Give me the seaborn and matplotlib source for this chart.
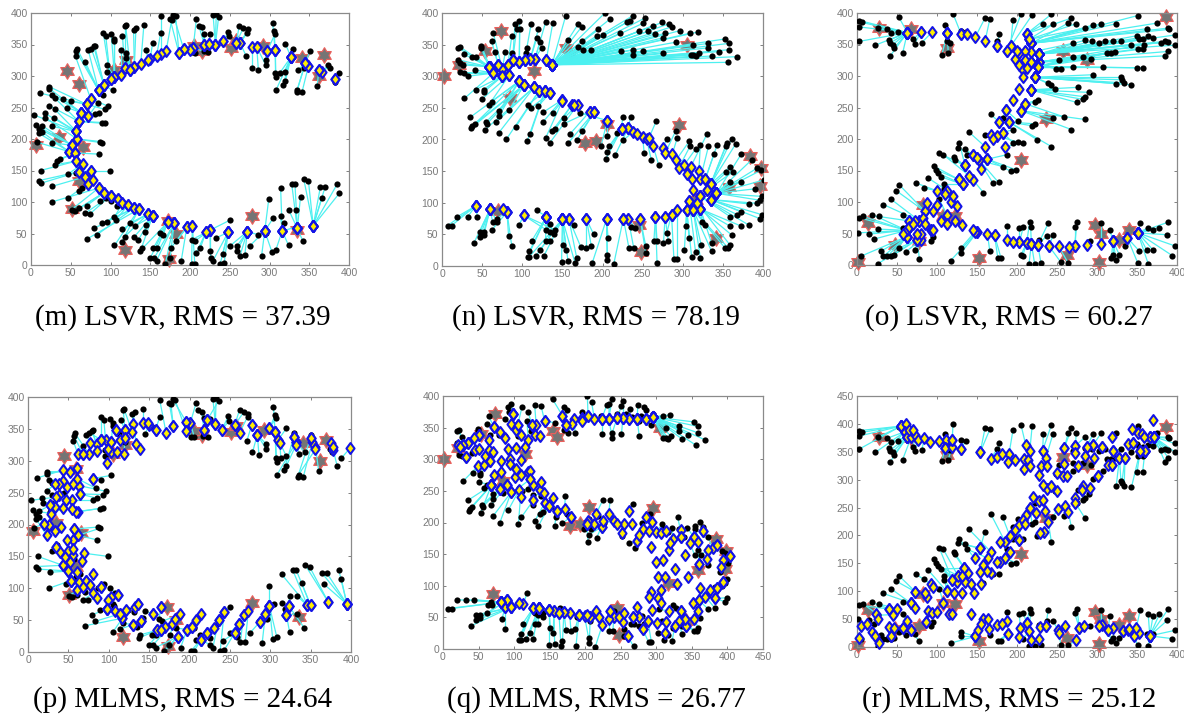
import pandas as pd
import matplotlib
matplotlib.use("Agg")
import matplotlib.pyplot as plt
from matplotlib.path import Path
import seaborn as sns

# C letter: noisy samples, then the fit of each sample for LSVR (m) and MLMS (p)
c_dots = [
    (388,304),(383,291),(374,318),(376,313),(360,284),(341,275),(334,275),(335,278),(343,313),(336,310),
    (351,340),(329,343),(320,351),(320,307),(313,305),(307,305),(308,298),(308,277),(317,285),(320,292),
    (304,384),(306,371),(307,367),(295,326),(295,318),(278,313),(286,309),(271,331),(273,374),(272,369),
    (267,376),(262,380),(248,370),(249,363),(229,397),(233,398),(236,394),(225,366),(215,377),(211,380),
    (208,390),(218,367),(223,338),(217,339),(206,337),(202,338),(179,397),(182,396),(175,390),(177,389),
    (163,396),(163,368),(153,353),(145,342),(142,381),(132,376),(129,373),(119,381),(118,380),(115,364),
    (113,342),(120,336),(120,329),(101,366),(105,359),(91,368),(94,364),(105,355),(79,347),(72,341),
    (76,343),(80,348),(58,343),(57,339),(56,331),(68,323),(95,317),(95,307),(103,277),(91,270),
    (97,252),(93,247),(84,257),(86,241),(81,239),(93,226),(89,225),(87,196),(89,194),(85,176),
    (99,150),(11,273),(23,283),(23,280),(26,270),(30,265),(23,253),(40,263),(50,260),(45,250),
    (30,247),(4,238),(17,241),(18,234),(29,234),(6,222),(14,221),(10,216),(14,211),(10,209),
    (27,220),(26,194),(7,195),(36,168),(33,165),(30,159),(12,150),(10,134),(13,130),(27,125),
    (47,145),(57,146),(64,122),(60,117),(47,107),(26,100),(70,94),(51,88),(55,86),(61,90),
    (68,82),(74,81),(87,101),(94,106),(101,101),(108,93),(105,76),(107,72),(96,69),(89,66),
    (79,58),(83,48),(70,41),(105,31),(114,36),(115,57),(118,45),(124,66),(131,62),(145,64),
    (143,53),(130,45),(135,40),(139,27),(137,22),(154,27),(159,27),(150,11),(155,11),(158,7),
    (169,2),(175,11),(176,27),(162,51),(166,48),(183,38),(189,7),(202,2),(206,2),(208,19),
    (213,27),(202,40),(206,38),(225,22),(226,11),(229,7),(238,2),(243,3),(241,17),(233,43),
    (250,71),(250,30),(259,30),(259,23),(263,15),(269,16),(275,30),(290,14),(303,21),(308,24),
    (324,31),(342,38),(286,48),(296,51),(305,75),(314,77),(318,67),(324,88),(333,88),(333,60),
    (299,104),(314,122),(328,128),(332,129),(339,108),(343,137),(349,133),(364,124),(370,124),(366,107),
    (385,128),(388,114),
]
m_fit = [
    (382,296),(382,296),(366,306),(362,309),(362,309),(349,316),(345,320),(345,320),(349,316),(345,320),
    (345,320),(327,330),(327,330),(327,330),(327,330),(307,341),(307,341),(327,330),(327,330),(327,330),
    (307,341),(307,341),(297,339),(297,339),(284,346),(278,346),(284,346),(263,352),(263,352),(263,352),
    (258,352),(258,352),(242,355),(242,355),(232,350),(232,350),(232,350),(224,351),(218,350),(218,350),
    (204,345),(218,350),(224,351),(204,345),(200,342),(192,343),(192,343),(186,337),(186,337),(170,340),
    (163,335),(158,332),(150,327),(147,325),(138,319),(130,315),(130,315),(125,310),(118,313),(118,313),
    (113,302),(125,310),(125,310),(105,299),(105,299),(100,295),(100,295),(105,299),(92,285),(85,277),
    (92,285),(92,285),(85,277),(85,277),(75,264),(85,277),(105,299),(100,295),(92,285),(85,277),
    (75,264),(70,255),(72,236),(72,236),(63,242),(60,228),(60,228),(58,200),(58,200),(55,178),
    (75,150),(70,255),(70,255),(63,242),(63,242),(60,228),(60,228),(63,242),(70,255),(63,242),
    (57,212),(57,212),(57,212),(58,200),(57,212),(52,190),(52,190),(52,190),(48,180),(48,180),
    (57,212),(52,190),(48,180),(55,178),(55,178),(57,165),(57,165),(60,148),(60,148),(68,140),
    (65,160),(75,150),(72,128),(72,128),(78,135),(85,122),(92,115),(85,122),(92,115),(92,115),
    (100,110),(100,110),(100,110),(109,105),(109,105),(115,98),(115,98),(122,95),(122,95),(129,90),
    (129,90),(129,90),(136,89),(136,89),(136,89),(147,81),(147,81),(147,81),(153,78),(153,78),
    (153,78),(153,78),(153,78),(153,78),(172,68),(172,68),(172,68),(172,68),(180,66),(180,66),
    (180,66),(180,66),(196,60),(172,68),(172,68),(196,60),(196,60),(203,62),(203,62),(220,52),
    (220,52),(225,55),(225,55),(225,55),(225,55),(248,52),(248,52),(248,52),(248,52),(248,52),
    (220,52),(272,53),(272,53),(272,53),(272,53),(272,53),(294,54),(294,54),(294,54),(316,54),
    (316,54),(335,58),(272,53),(294,54),(294,54),(316,54),(316,54),(335,58),(335,58),(316,54),
    (294,54),(316,54),(335,58),(335,58),(335,58),(355,62),(355,62),(355,62),(355,62),(355,62),
    (355,62),(355,62),
]
p_fit = [
    (399,320),(378,317),(375,328),(378,322),(356,322),(352,329),(350,336),(356,318),(332,329),(329,337),
    (350,336),(329,337),(310,333),(310,333),(312,328),(306,345),(306,345),(332,329),(329,337),(332,325),
    (306,345),(299,351),(299,351),(284,341),(284,341),(284,341),(284,341),(277,356),(277,356),(262,344),
    (256,356),(256,356),(240,348),(240,348),(232,358),(232,358),(222,364),(222,364),(218,348),(222,364),
    (201,359),(218,348),(218,348),(218,348),(201,359),(196,361),(196,361),(196,346),(180,354),(180,354),
    (171,344),(158,349),(158,349),(150,356),(142,359),(130,357),(134,327),(129,345),(120,348),(120,348),
    (120,335),(119,310),(114,333),(109,348),(109,348),(91,333),(96,332),(103,329),(85,327),(77,328),
    (91,333),(86,316),(76,310),(68,310),(62,310),(68,310),(99,319),(98,296),(80,272),(80,272),
    (63,261),(64,248),(61,272),(64,248),(54,239),(62,220),(59,220),(57,193),(62,183),(62,183),
    (69,155),(43,285),(52,282),(61,289),(43,269),(39,263),(34,263),(56,264),(48,259),(47,238),
    (39,246),(35,243),(27,230),(34,227),(43,226),(29,217),(27,230),(20,201),(26,199),(23,183),
    (54,225),(34,190),(20,201),(35,165),(40,157),(35,165),(43,136),(43,136),(50,127),(50,127),
    (46,149),(56,152),(61,125),(53,112),(53,112),(53,112),(63,110),(61,97),(68,102),(72,111),
    (81,92),(85,85),(91,102),(91,102),(112,89),(112,89),(103,86),(108,65),(99,82),(98,68),
    (98,68),(114,60),(117,53),(117,53),(130,43),(121,66),(130,43),(136,75),(132,71),(155,60),
    (140,48),(140,48),(140,48),(160,34),(160,34),(165,34),(170,39),(165,34),(178,44),(186,24),
    (186,24),(186,24),(182,52),(165,71),(188,59),(197,35),(197,35),(214,19),(214,19),(222,30),
    (222,30),(203,39),(208,50),(230,38),(214,19),(236,50),(243,63),(256,30),(256,30),(236,50),
    (243,63),(261,44),(267,58),(261,44),(267,58),(273,65),(287,47),(294,60),(299,72),(299,72),
    (320,58),(323,72),(287,47),(294,60),(299,72),(323,72),(320,58),(323,72),(346,73),(320,58),
    (299,72),(346,73),(346,73),(350,73),(350,73),(372,78),(372,78),(395,75),(395,75),(395,75),
    (395,75),(395,75),
]
p_extra = [
    (214,59),(203,39),(165,71),(155,60),(56,175),(48,175),(50,159),(56,162),(46,149),(52,141),
    (67,142),(57,193),(41,196),(81,122),(63,110),(72,111),(77,105),(61,97),(68,102),(136,75),
    (114,60),(98,68),(148,360),(139,319),(120,335),(103,314),(110,314),(99,319),(91,333),(103,329),
]
c_stars = [
    (6,190),(45,308),(60,287),(35,203),(66,187),(60,133),(51,89),(118,24),(173,9),(183,50),
    (278,77),(335,55),(369,333),(341,328),(362,300),(292,348),(252,345),(215,340),(205,347),(172,70),
    (105,310),(120,325),(258,355),
]

# S letter: noisy samples, then the fits for LSVR (n) and MLMS (q)
s_dots = [
    (203,400),(154,395),(209,390),(238,396),(234,388),(230,385),(253,392),(251,384),(263,380),(274,385),
    (283,383),(286,378),(296,372),(309,368),(319,370),(170,383),(174,378),(195,374),(193,364),(201,366),
    (222,368),(245,371),(257,371),(266,367),(278,368),(276,361),(292,354),(313,350),(332,352),(353,359),
    (358,352),(358,342),(345,339),(332,345),(368,331),(356,322),(336,332),(320,337),(313,334),(310,334),
    (317,332),(276,336),(251,340),(238,342),(238,334),(223,340),(186,341),(176,342),(170,346),(175,355),
    (157,358),(96,388),(91,383),(93,374),(97,374),(111,382),(120,374),(129,385),(138,384),(87,364),
    (64,368),(62,355),(49,348),(49,345),(20,345),(23,346),(27,335),(37,330),(42,331),(20,326),
    (22,321),(26,318),(22,306),(27,305),(32,300),(41,310),(66,338),(79,338),(87,337),(118,360),
    (122,354),(124,345),(106,345),(105,337),(28,265),(42,279),(52,279),(52,275),(50,264),(58,254),
    (62,260),(71,245),(71,237),(84,247),(35,235),(41,225),(38,222),(36,218),(55,228),(56,225),
    (53,215),(67,227),(71,211),(80,200),(92,220),(106,197),(110,208),(107,255),(111,250),(120,253),
    (126,228),(126,243),(138,242),(129,202),(137,213),(141,216),(134,194),(152,234),(152,225),(159,208),
    (157,194),(168,199),(174,213),(172,242),(198,189),(206,205),(208,189),(206,181),(204,169),(216,176),
    (218,211),(225,236),(235,235),(226,199),(252,178),(261,167),(270,160),(267,229),(280,200),(291,213),
    (293,202),(308,197),(309,189),(316,185),(330,208),(322,192),(332,189),(339,177),(343,192),(354,190),
    (361,201),(366,193),(355,195),(373,177),(386,168),(393,155),(397,151),(401,136),(359,157),(354,148),
    (363,149),(372,133),(359,133),(390,122),(399,110),(396,104),(393,99),(399,81),(396,75),(382,65),
    (372,86),(368,81),(373,63),(383,98),(359,63),(359,78),(361,49),(359,33),(357,28),(353,28),
    (336,36),(336,23),(324,69),(328,65),(323,33),(322,12),(316,22),(311,15),(302,25),(293,11),
    (289,11),(308,44),(304,63),(280,52),(282,39),(276,36),(268,39),(264,39),(268,4),(254,31),
    (254,20),(239,28),(233,28),(241,60),(236,61),(214,3),(206,17),(206,10),(187,4),(207,44),
    (189,50),(186,32),(180,28),(173,30),(168,12),(166,4),(157,8),(149,7),(155,25),(151,33),
    (164,65),(127,16),(117,16),(109,15),(107,15),(109,23),(122,25),(112,40),(129,40),(134,39),
    (140,50),(134,54),(130,57),(141,57),(135,66),(118,88),(96,65),(83,47),(87,31),(63,70),
    (69,69),(68,75),(62,57),(52,54),(47,54),(47,46),(52,49),(40,37),(44,78),(32,78),
    (19,78),(12,64),(7,64),
]
n_fit = [
    (137,318),(137,318),(137,318),(137,318),(137,318),(137,318),(137,318),(137,318),(137,318),(137,318),
    (137,318),(137,318),(137,318),(137,318),(137,318),(137,318),(137,318),(137,318),(137,318),(137,318),
    (137,318),(137,318),(137,318),(137,318),(137,318),(137,318),(137,318),(137,318),(137,318),(137,318),
    (137,318),(137,318),(137,318),(137,318),(137,318),(137,318),(137,318),(137,318),(137,318),(137,318),
    (137,318),(137,318),(137,318),(137,318),(137,318),(137,318),(137,318),(137,318),(137,318),(137,318),
    (137,318),(96,322),(88,325),(88,325),(96,322),(103,326),(110,327),(116,328),(130,326),(82,318),
    (75,312),(70,318),(60,314),(58,315),(58,315),(58,315),(58,315),(60,314),(60,314),(58,315),
    (58,315),(58,315),(64,305),(64,305),(64,305),(64,305),(70,318),(75,312),(82,318),(110,327),
    (116,328),(116,328),(103,326),(96,322),(64,305),(75,300),(75,300),(75,300),(84,302),(84,302),
    (96,292),(96,292),(96,292),(102,286),(96,292),(96,292),(102,286),(102,286),(102,286),(102,286),
    (115,283),(115,283),(115,283),(121,277),(121,277),(128,276),(128,276),(128,276),(135,274),(135,274),
    (149,262),(149,262),(150,261),(150,261),(162,255),(162,255),(169,255),(169,255),(184,244),(184,244),
    (190,244),(190,244),(190,244),(206,230),(206,230),(206,230),(224,217),(224,217),(224,217),(232,218),
    (232,218),(224,217),(232,218),(238,212),(250,204),(255,200),(263,190),(258,203),(275,187),(278,178),
    (287,177),(292,168),(295,155),(302,160),(310,157),(320,150),(322,138),(328,137),(328,137),(335,130),
    (335,130),(335,130),(335,130),(342,115),(342,115),(342,115),(342,115),(342,115),(335,130),(330,120),
    (330,120),(342,115),(342,115),(342,115),(342,115),(342,115),(335,105),(335,105),(335,105),(322,110),
    (335,105),(322,110),(322,90),(335,105),(322,90),(322,110),(322,90),(318,100),(313,89),(313,89),
    (322,90),(313,89),(322,90),(322,90),(313,89),(313,89),(308,102),(305,88),(305,88),(293,89),
    (286,81),(305,88),(305,88),(286,81),(278,78),(278,78),(266,78),(266,78),(266,78),(247,75),
    (247,75),(232,75),(226,75),(232,75),(226,75),(226,75),(205,74),(205,74),(205,74),(205,74),
    (180,74),(180,74),(180,74),(158,75),(158,75),(150,74),(150,74),(150,74),(150,74),(150,74),
    (158,75),(150,74),(150,74),(150,74),(130,78),(130,78),(150,74),(130,78),(130,78),(130,78),
    (130,78),(130,78),(102,80),(102,80),(130,78),(130,78),(102,80),(81,85),(81,85),(60,90),
    (60,90),(81,85),(81,85),(60,90),(60,90),(60,90),(60,90),(60,90),(42,95),(42,95),
    (42,95),(42,95),(42,95),
]
n_extra = [
    (130,326),(116,328),(110,327),(103,326),(96,322),(88,325),(82,318),(75,312),(70,318),(60,314),
    (58,315),(64,305),(75,300),(84,302),(96,292),(102,286),(115,283),(121,277),(128,276),(135,274),
    (184,244),(190,244),(206,230),(224,217),(243,208),(305,145),(312,138),(313,120),(318,100),(308,102),
    (322,110),(313,89),(286,81),(165,255),(150,74),(76,90),(130,78),
]
q_fit = [
    (204,368),(168,369),(213,363),(233,364),(233,364),(223,363),(253,366),(245,366),(262,363),(273,364),
    (286,363),(286,363),(295,367),(295,367),(295,367),(168,369),(173,354),(195,365),(195,360),(204,368),
    (223,363),(245,366),(253,366),(262,363),(273,364),(273,364),(286,363),(295,367),(295,367),(295,367),
    (295,367),(295,367),(295,367),(295,367),(295,367),(295,367),(295,367),(295,367),(295,367),(295,367),
    (295,367),(273,364),(253,366),(245,366),(233,364),(223,363),(184,364),(182,355),(173,354),(173,354),
    (143,360),(98,371),(98,371),(98,371),(98,371),(105,354),(125,354),(131,354),(143,360),(96,356),
    (72,351),(72,351),(51,339),(51,339),(35,325),(28,322),(28,322),(35,325),(43,333),(21,322),
    (24,319),(28,322),(24,319),(33,303),(33,303),(45,315),(65,331),(80,343),(87,334),(120,331),
    (125,354),(130,338),(103,347),(110,339),(49,289),(58,291),(59,305),(66,298),(68,259),(68,259),
    (68,259),(80,253),(80,253),(90,259),(68,259),(68,259),(68,259),(68,259),(80,253),(80,253),
    (68,259),(90,259),(96,248),(96,248),(107,251),(109,240),(127,235),(122,268),(127,259),(136,251),
    (127,235),(142,246),(143,231),(143,231),(149,226),(149,226),(149,226),(154,238),(160,218),(160,218),
    (160,218),(180,209),(180,209),(171,222),(202,198),(204,203),(212,197),(223,193),(202,198),(223,193),
    (225,203),(215,213),(233,214),(240,203),(252,183),(273,170),(273,170),(261,218),(281,190),(286,209),
    (294,201),(300,185),(306,183),(313,186),(334,188),(323,174),(335,177),(335,177),(353,177),(353,177),
    (366,186),(366,186),(359,169),(379,160),(385,164),(403,147),(403,147),(394,140),(360,135),(347,168),
    (373,157),(371,143),(360,135),(391,129),(394,106),(394,106),(385,97),(383,80),(383,80),(369,83),
    (375,93),(362,97),(360,77),(385,97),(351,72),(360,77),(358,60),(353,48),(342,37),(342,37),
    (340,48),(332,44),(334,60),(334,60),(326,36),(326,36),(314,43),(312,26),(312,26),(288,45),
    (281,31),(301,41),(318,60),(276,50),(288,45),(281,31),(267,51),(267,51),(260,20),(253,43),
    (260,20),(240,50),(233,47),(235,60),(235,60),(224,38),(207,50),(199,52),(191,53),(207,50),
    (191,53),(191,53),(178,57),(170,58),(170,58),(163,57),(156,60),(149,61),(156,60),(149,61),
    (163,57),(135,65),(135,65),(127,65),(127,65),(127,65),(135,65),(127,65),(135,65),(135,65),
    (149,61),(135,65),(135,65),(149,61),(135,65),(113,71),(107,73),(87,66),(87,66),(90,77),
    (82,74),(82,74),(90,77),(96,66),(96,66),(96,66),(90,77),(96,66),(82,74),(82,74),
    (82,74),(82,74),(82,74),
]
q_extra = [
    (299,138),(309,140),(293,161),(318,156),(319,167),(326,127),(345,114),(302,114),(312,114),(307,93),
    (329,102),(292,90),(290,82),(302,80),(306,72),(294,61),(341,148),(215,60),(202,54),(220,51),
    (247,50),(254,57),(273,66),(105,354),(65,314),(70,311),(66,298),(82,297),(72,275),(82,280),
    (101,272),(103,284),(110,275),(120,280),(122,282),(122,268),(138,264),(102,318),(91,316),(94,301),
    (94,292),(110,299),(116,319),(136,336),(51,316),(255,198),(266,197),(244,197),(290,187),(276,181),
]
s_stars = [
    (2,300),(21,317),(54,340),(73,372),(115,308),(85,265),(178,195),(192,197),(205,225),(295,223),
    (305,350),(384,174),(398,155),(396,127),(358,125),(342,45),(248,22),(245,65),(70,87),(155,345),
    (160,335),(317,105),
]

# Z letter: noisy samples, then the fits for LSVR (o) and MLMS (r)
z_dots = [
    (2,378),(3,388),(6,385),(3,355),(23,349),(26,376),(37,374),(51,370),(43,368),(52,394),
    (40,357),(41,352),(45,350),(46,344),(41,331),(57,336),(70,358),(72,351),(81,353),(110,381),
    (112,368),(116,353),(112,355),(106,333),(114,336),(120,399),(130,372),(136,370),(160,392),(166,390),
    (175,355),(178,366),(195,389),(205,398),(219,397),(243,398),(233,382),(245,382),(264,384),(268,392),
    (274,383),(285,376),(295,381),(305,383),(324,383),(351,396),(375,384),(389,376),(390,374),(362,375),
    (350,364),(397,365),(364,363),(370,360),(353,358),(357,359),(385,355),(389,354),(380,353),(398,349),
    (343,350),(385,332),(389,339),(357,343),(351,343),(359,350),(330,355),(320,355),(303,352),(310,355),
    (294,355),(285,357),(270,352),(322,338),(312,337),(318,337),(293,327),(282,330),(270,330),(253,326),
    (249,311),(255,311),(270,315),(308,315),(295,302),(350,313),(357,313),(330,298),(331,294),(324,288),
    (334,289),(343,286),(239,289),(242,286),(247,279),(276,282),(290,274),(285,267),(282,263),(275,258),
    (226,262),(222,258),(245,233),(259,235),(285,231),(268,215),(223,224),(219,221),(225,199),(243,188),
    (201,229),(195,215),(167,239),(182,233),(160,207),(195,194),(201,195),(207,193),(187,175),(199,151),
    (192,149),(183,156),(177,131),(170,130),(158,115),(140,211),(128,194),(126,186),(122,166),(121,171),
    (135,184),(138,175),(103,177),(108,175),(96,157),(99,151),(101,146),(105,140),(89,138),(74,130),
    (109,128),(109,120),(84,122),(49,118),(53,127),(43,104),(33,96),(103,104),(8,77),(3,75),
    (19,80),(27,77),(26,57),(1,51),(15,49),(21,41),(30,22),(33,14),(26,2),(5,14),
    (38,14),(43,14),(46,16),(53,27),(57,59),(58,80),(61,21),(72,24),(78,10),(93,38),
    (95,44),(117,7),(130,19),(130,27),(166,22),(176,11),(180,11),(187,62),(203,59),(208,61),
    (216,69),(217,61),(205,16),(207,14),(215,2),(222,2),(230,3),(228,40),(237,46),(239,66),
    (245,47),(255,4),(264,3),(272,61),(275,68),(291,38),(305,67),(316,56),(320,16),(318,11),
    (324,8),(328,16),(335,30),(353,22),(351,3),(364,2),(362,24),(370,24),(354,66),(364,59),
    (370,56),(378,59),(389,68),(388,48),(394,15),(398,30),
]
o_fit = [
    (63,369),(63,369),(63,369),(63,369),(63,369),(63,369),(63,369),(63,369),(63,369),(63,369),
    (63,369),(63,369),(63,369),(63,369),(63,369),(63,369),(80,370),(80,370),(94,370),(113,369),
    (113,369),(113,369),(113,369),(113,369),(113,369),(130,367),(130,367),(137,367),(148,362),(160,355),
    (175,348),(175,348),(192,347),(187,339),(192,347),(212,367),(212,367),(215,358),(218,352),(212,367),
    (215,358),(215,358),(218,352),(218,352),(218,352),(218,352),(218,352),(218,352),(218,352),(218,352),
    (228,335),(228,335),(228,335),(228,335),(228,335),(228,335),(228,335),(228,335),(228,335),(228,335),
    (228,335),(228,322),(228,322),(228,322),(228,322),(228,322),(228,335),(228,335),(228,335),(228,335),
    (228,335),(228,335),(218,338),(226,315),(226,315),(226,315),(226,315),(226,315),(226,315),(218,322),
    (218,322),(218,322),(226,315),(226,315),(222,298),(226,315),(226,315),(222,298),(222,298),(222,298),
    (222,298),(222,298),(222,298),(222,298),(217,278),(217,278),(217,278),(217,278),(217,278),(217,278),
    (210,256),(210,256),(205,245),(210,256),(205,245),(205,245),(190,227),(190,227),(190,227),(190,227),
    (186,246),(182,210),(178,227),(186,246),(168,207),(182,210),(175,205),(185,188),(163,168),(163,168),
    (163,168),(153,166),(153,166),(150,170),(145,135),(160,188),(135,158),(145,175),(135,158),(135,158),
    (145,175),(150,170),(135,158),(140,142),(127,136),(127,136),(132,128),(132,128),(113,118),(110,113),
    (132,128),(117,100),(100,118),(85,85),(85,85),(78,70),(78,70),(112,80),(62,55),(62,55),
    (62,55),(65,70),(62,55),(62,55),(62,55),(62,55),(62,45),(62,45),(75,40),(62,45),
    (62,45),(62,45),(75,40),(75,40),(62,55),(65,70),(80,40),(80,50),(75,40),(92,55),
    (92,55),(150,52),(150,52),(147,52),(163,50),(172,47),(172,47),(187,40),(203,36),(203,36),
    (212,35),(218,34),(212,35),(212,35),(218,34),(218,34),(226,32),(226,32),(226,32),(226,32),
    (240,30),(240,30),(252,30),(272,30),(272,30),(287,31),(305,34),(320,38),(320,38),(320,38),
    (320,38),(320,38),(338,43),(338,43),(338,43),(351,51),(351,51),(351,51),(351,51),(351,51),
    (351,51),(351,51),(351,51),(351,51),(351,51),(351,51),
]
o_extra = [
    (197,327),(203,337),(210,340),(210,325),(203,318),(208,310),(213,312),(208,299),(203,279),(195,262),
    (178,227),(170,200),(155,153),(125,93),(88,99),(95,85),(100,95),(82,75),(85,65),(95,55),
    (72,70),(65,60),(58,50),(75,50),(122,70),(131,63),(145,55),(195,37),(265,28),(187,339),
    (200,340),(215,358),(218,322),(105,70),(112,65),(70,65),(127,136),(120,110),
]
r_fit = [
    (55,396),(55,396),(55,396),(55,396),(60,386),(55,396),(60,386),(63,377),(63,377),(61,399),
    (60,386),(63,377),(63,377),(63,377),(63,377),(68,377),(73,380),(76,371),(84,374),(111,371),
    (111,371),(110,356),(110,356),(110,356),(119,359),(119,372),(130,355),(130,355),(154,349),(154,349),
    (167,337),(175,341),(190,346),(211,362),(216,352),(232,352),(232,352),(236,339),(259,356),(259,356),
    (273,361),(273,361),(287,359),(295,362),(319,377),(344,390),(371,377),(371,377),(371,377),(366,376),
    (354,352),(371,377),(360,352),(366,376),(354,352),(360,352),(371,377),(371,377),(366,376),(371,377),
    (345,365),(371,377),(371,377),(360,352),(354,352),(360,352),(320,352),(320,352),(306,358),(306,358),
    (295,362),(287,359),(273,347),(319,327),(314,326),(319,327),(296,338),(285,343),(276,325),(259,328),
    (250,312),(257,306),(262,306),(301,307),(301,307),(354,352),(360,352),(328,338),(335,338),(328,338),
    (335,338),(354,352),(237,283),(243,289),(250,280),(281,282),(291,285),(282,289),(281,282),(273,267),
    (220,269),(216,249),(251,248),(260,252),(273,258),(264,242),(224,240),(216,249),(234,207),(239,225),
    (202,219),(197,209),(185,189),(191,199),(154,177),(203,191),(208,228),(203,191),(191,171),(185,159),
    (179,153),(175,153),(168,132),(162,137),(155,113),(167,171),(147,159),(154,177),(134,141),(139,132),
    (154,177),(164,159),(119,121),(126,128),(125,116),(119,121),(126,128),(134,141),(112,100),(93,113),
    (112,100),(121,97),(95,107),(73,99),(73,99),(67,79),(67,79),(108,79),(24,60),(40,68),
    (40,68),(50,69),(45,58),(5,37),(12,41),(19,26),(22,20),(42,19),(28,7),(3,16),
    (42,19),(40,36),(46,34),(57,34),(62,46),(67,79),(57,34),(67,30),(67,30),(86,44),
    (86,44),(148,19),(148,19),(148,19),(165,32),(189,24),(189,24),(188,46),(204,34),(212,43),
    (212,43),(215,28),(203,18),(215,28),(218,13),(218,13),(228,14),(229,36),(236,38),(236,38),
    (251,31),(252,25),(274,12),(278,34),(278,34),(284,38),(306,40),(314,30),(320,34),(314,30),
    (332,28),(332,28),(339,31),(352,25),(346,20),(366,20),(366,20),(366,20),(349,34),(366,20),
    (366,20),(366,20),(366,20),(366,20),(366,20),(366,20),
]
r_extra = [
    (370,407),(351,384),(356,381),(359,377),(339,364),(345,365),(65,389),(70,389),(102,369),(91,368),
    (119,372),(181,346),(189,332),(197,335),(209,337),(209,320),(214,335),(216,325),(228,309),(230,324),
    (238,325),(232,291),(227,261),(233,264),(235,243),(211,237),(208,228),(210,220),(229,204),(179,188),
    (157,147),(154,135),(134,141),(135,116),(142,113),(131,96),(146,96),(88,90),(85,97),(72,70),
    (26,50),(89,64),(94,61),(100,62),(115,59),(119,59),(143,60),(158,51),(151,31),(155,41),
    (164,50),(175,40),(181,41),(260,38),(302,37),(340,32),(131,128),
]
z_stars = [
    (1,4),(14,67),(27,376),(67,375),(113,345),(48,32),(83,95),(122,77),(78,38),(205,167),
    (236,232),(258,340),(287,326),(386,394),(298,63),(305,50),(340,56),(328,40),(303,5),(263,16),
    (153,11),(108,78),
]

ticks_400 = [0, 50, 100, 150, 200, 250, 300, 350, 400]
ticks_450 = [0, 50, 100, 150, 200, 250, 300, 350, 400, 450]
captions = ["(m) LSVR, RMS = 37.39", "(n) LSVR, RMS = 78.19", "(o) LSVR, RMS = 60.27",
            "(p) MLMS, RMS = 24.64", "(q) MLMS, RMS = 26.77", "(r) MLMS, RMS = 25.12"]

W, H = 1184, 718
star = Path.unit_regular_star(6, innerCircle=0.58)
# MATLAB diamond is wider than matplotlib's "d"
diamond = Path([(0, 1), (0.74, 0), (0, -1), (-0.74, 0), (0, 1)], closed=True)

sns.set_theme(style="white")
plt.rcParams['font.family'] = ['Liberation Sans', 'DejaVu Sans']

fig = plt.figure(figsize=(W / 100, H / 100), dpi=100)


def panel(box, dots, fit, extra, stars, caption, cap_x, cap_y, xticks=ticks_400, yticks=ticks_400):
    # box is left, right, top, bottom in image pixels
    left, right, top, bottom = box
    ax = fig.add_axes([left / W, 1 - bottom / H, (right - left) / W, (bottom - top) / H])
    assert len(dots) == len(fit), caption
    d = pd.DataFrame(dots, columns=["x", "y"])
    f = pd.DataFrame(fit, columns=["x", "y"])
    links = pd.concat([d.assign(link=d.index), f.assign(link=f.index)])
    s = pd.DataFrame(stars, columns=["x", "y"])
    fits = pd.concat([f, pd.DataFrame(extra, columns=["x", "y"])])

    sns.scatterplot(data=s, x="x", y="y", marker=star, s=125, color="#757575",
                    edgecolor="#e8605c", linewidth=0.9, clip_on=False, zorder=2, ax=ax)
    sns.lineplot(data=links, x="x", y="y", units="link", estimator=None, sort=False,
                 color="#4df0f0", linewidth=0.9, legend=False, zorder=3, ax=ax)
    sns.scatterplot(data=d, x="x", y="y", s=20, color="black", edgecolor="black",
                    linewidth=0, zorder=4, ax=ax)
    sns.scatterplot(data=fits, x="x", y="y", marker=diamond, s=62, color="#ffee00",
                    edgecolor="#1414e6", linewidth=1.5, clip_on=False, zorder=5, ax=ax)

    ax.set_xlim(xticks[0], xticks[-1])
    ax.set_ylim(yticks[0], yticks[-1])
    ax.set_xticks(xticks)
    ax.set_yticks(yticks)
    ax.set_xlabel("")
    ax.set_ylabel("")
    ax.tick_params(direction="in", length=2.5, width=0.7, color="#808080", labelcolor="#7a7a7a",
                   labelsize=7.5, pad=2.5, top=True, right=True, bottom=True, left=True)
    for side in ax.spines.values():
        side.set_edgecolor("#8a8a8a")
        side.set_linewidth(0.9)
    fig.text(cap_x / W, 1 - cap_y / H, caption, ha="center", va="baseline",
             family=["Liberation Serif", "DejaVu Serif"], fontsize=21, color="black")


panel((31, 349, 13, 265), c_dots, m_fit, [], c_stars, captions[0], 183, 325)
panel((442, 763, 13, 266), s_dots, n_fit, n_extra, s_stars, captions[1], 596, 325)
panel((857, 1177, 13, 265), z_dots, o_fit, o_extra, z_stars, captions[2], 1009, 325)
panel((28, 351, 397, 652), c_dots, p_fit, p_extra, c_stars, captions[3], 183, 707)
panel((443, 763, 396, 649), s_dots, q_fit, q_extra, s_stars, captions[4], 596, 707, xticks=ticks_450)
panel((857, 1177, 396, 647), z_dots, r_fit, r_extra, z_stars, captions[5], 1009, 707, yticks=ticks_450)

fig.savefig("out.png", dpi=100)
